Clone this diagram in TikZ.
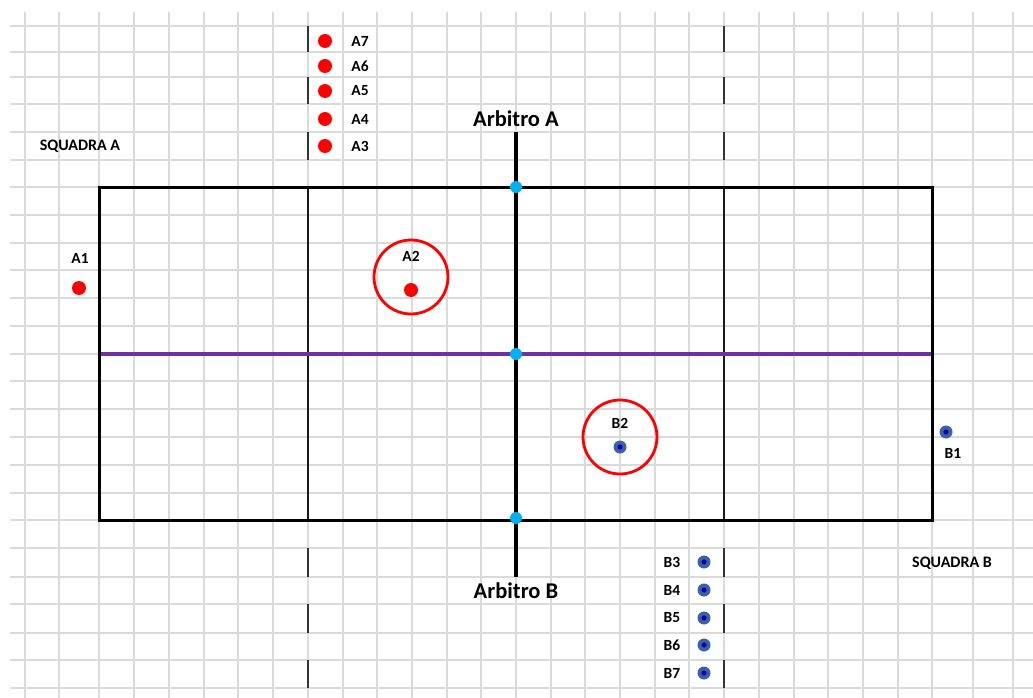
\documentclass[tikz,border=0pt]{standalone}
\usepackage{fontspec}
\setmainfont{Carlito}
\usepackage{tikz}
\usetikzlibrary{positioning}
\usepackage{xcolor}
\definecolor{gridgray}{RGB}{218,218,218}
\definecolor{deeppurple}{RGB}{112,48,160}
\definecolor{refcyan}{RGB}{0,176,240}
\definecolor{bluering}{RGB}{62,98,158}
\definecolor{bluecore}{RGB}{0,0,205}

\begin{document}
\begin{tikzpicture}[x=1pt,y=-1pt,
  reddot/.style={circle,fill=red,minimum size=14pt,inner sep=0pt},
  bluedot/.style={circle,fill=bluering,minimum size=13pt,inner sep=0pt,
    path picture={\fill[bluecore] (path picture bounding box.center) circle (2.6pt);}},
  refdot/.style={circle,fill=refcyan,minimum size=12pt,inner sep=0pt},
  ring/.style={circle,draw=red,line width=2.8pt,minimum size=74pt,inner sep=0pt},
  lbl/.style={font=\fontsize{15.5}{15.5}\selectfont\bfseries},
  team/.style={font=\fontsize{16}{16}\selectfont\bfseries},
  arb/.style={font=\fontsize{22.5}{22.5}\selectfont\bfseries}]
  \useasboundingbox[fill=white] (0,0) rectangle (1033,698);
  % grid
  \foreach \gx in {25,59,99,134,169,204,238,273,308,343,377,412,447,481,516,
                   551,585,620,655,689,724,759,794,828,863,898,932,973,1013}
    \draw[gridgray,line width=1.3pt] (\gx,12) -- (\gx,698);
  \foreach \gy in {26,52,77,104,132,160,187,215,243,270,298,326,354,381,409,
                   437,465,493,520,548,577,604,633,660,688}
    \draw[gridgray,line width=1.3pt] (10,\gy) -- (1033,\gy);
  % bench borders
  \foreach \bx in {308,724}
    \foreach \by/\ey in {26/52,77/104,132/160,548/577,604/633,660/688}
      \draw[black!80,line width=1.5pt] (\bx,\by) -- (\bx,\ey);
  % field
  \draw[black!90,line width=1.5pt] (308,187) -- (308,520);
  \draw[black!90,line width=1.5pt] (724,187) -- (724,520);
  \draw[deeppurple,line width=3.6pt] (99,354) -- (932,354);
  \draw[black,line width=3pt] (99,187) rectangle (932,520);
  \coordinate (lineA) at (516,132);
  \coordinate (lineB) at (516,577);
  \draw[black,line width=4pt] (lineA) -- (lineB);
  \node[refdot] (rtop) at (516,187) {};
  \node[refdot] (rmid) at (516,354) {};
  \node[refdot] (rbot) at (516,518) {};
  \node[arb] (arbA) at (516,119) {Arbitro A};
  \node[arb] (arbB) at (516,591) {Arbitro B};
  % squadra A
  \node[team] (sqA) at (80,146) {SQUADRA A};
  \foreach \n/\y in {7/41,6/66,5/91,4/119,3/146} {
    \node[reddot] (a\n) at (325,\y) {};
    \node[lbl] (la\n) at (360,\y) {A\n};
  }
  \node[reddot] (a1) at (79,288) {};
  \node[lbl] (la1) at (80,258) {A1};
  \node[reddot] (a2) at (411,290) {};
  \node[lbl] (la2) at (411,256) {A2};
  \node[ring] (ra2) at (411,277) {};
  % squadra B
  \node[team] (sqB) at (952,563) {SQUADRA B};
  \foreach \n/\y in {3/562,4/590,5/618,6/645,7/673} {
    \node[bluedot] (b\n) at (704,\y) {};
    \node[lbl] (lb\n) at (672,\y) {B\n};
  }
  \node[bluedot] (b1) at (946,432) {};
  \node[lbl] (lb1) at (953,453) {B1};
  \node[bluedot] (b2) at (620,447) {};
  \node[lbl] (lb2) at (620,423) {B2};
  \node[ring] (rb2) at (620,437) {};
\end{tikzpicture}
\end{document}
